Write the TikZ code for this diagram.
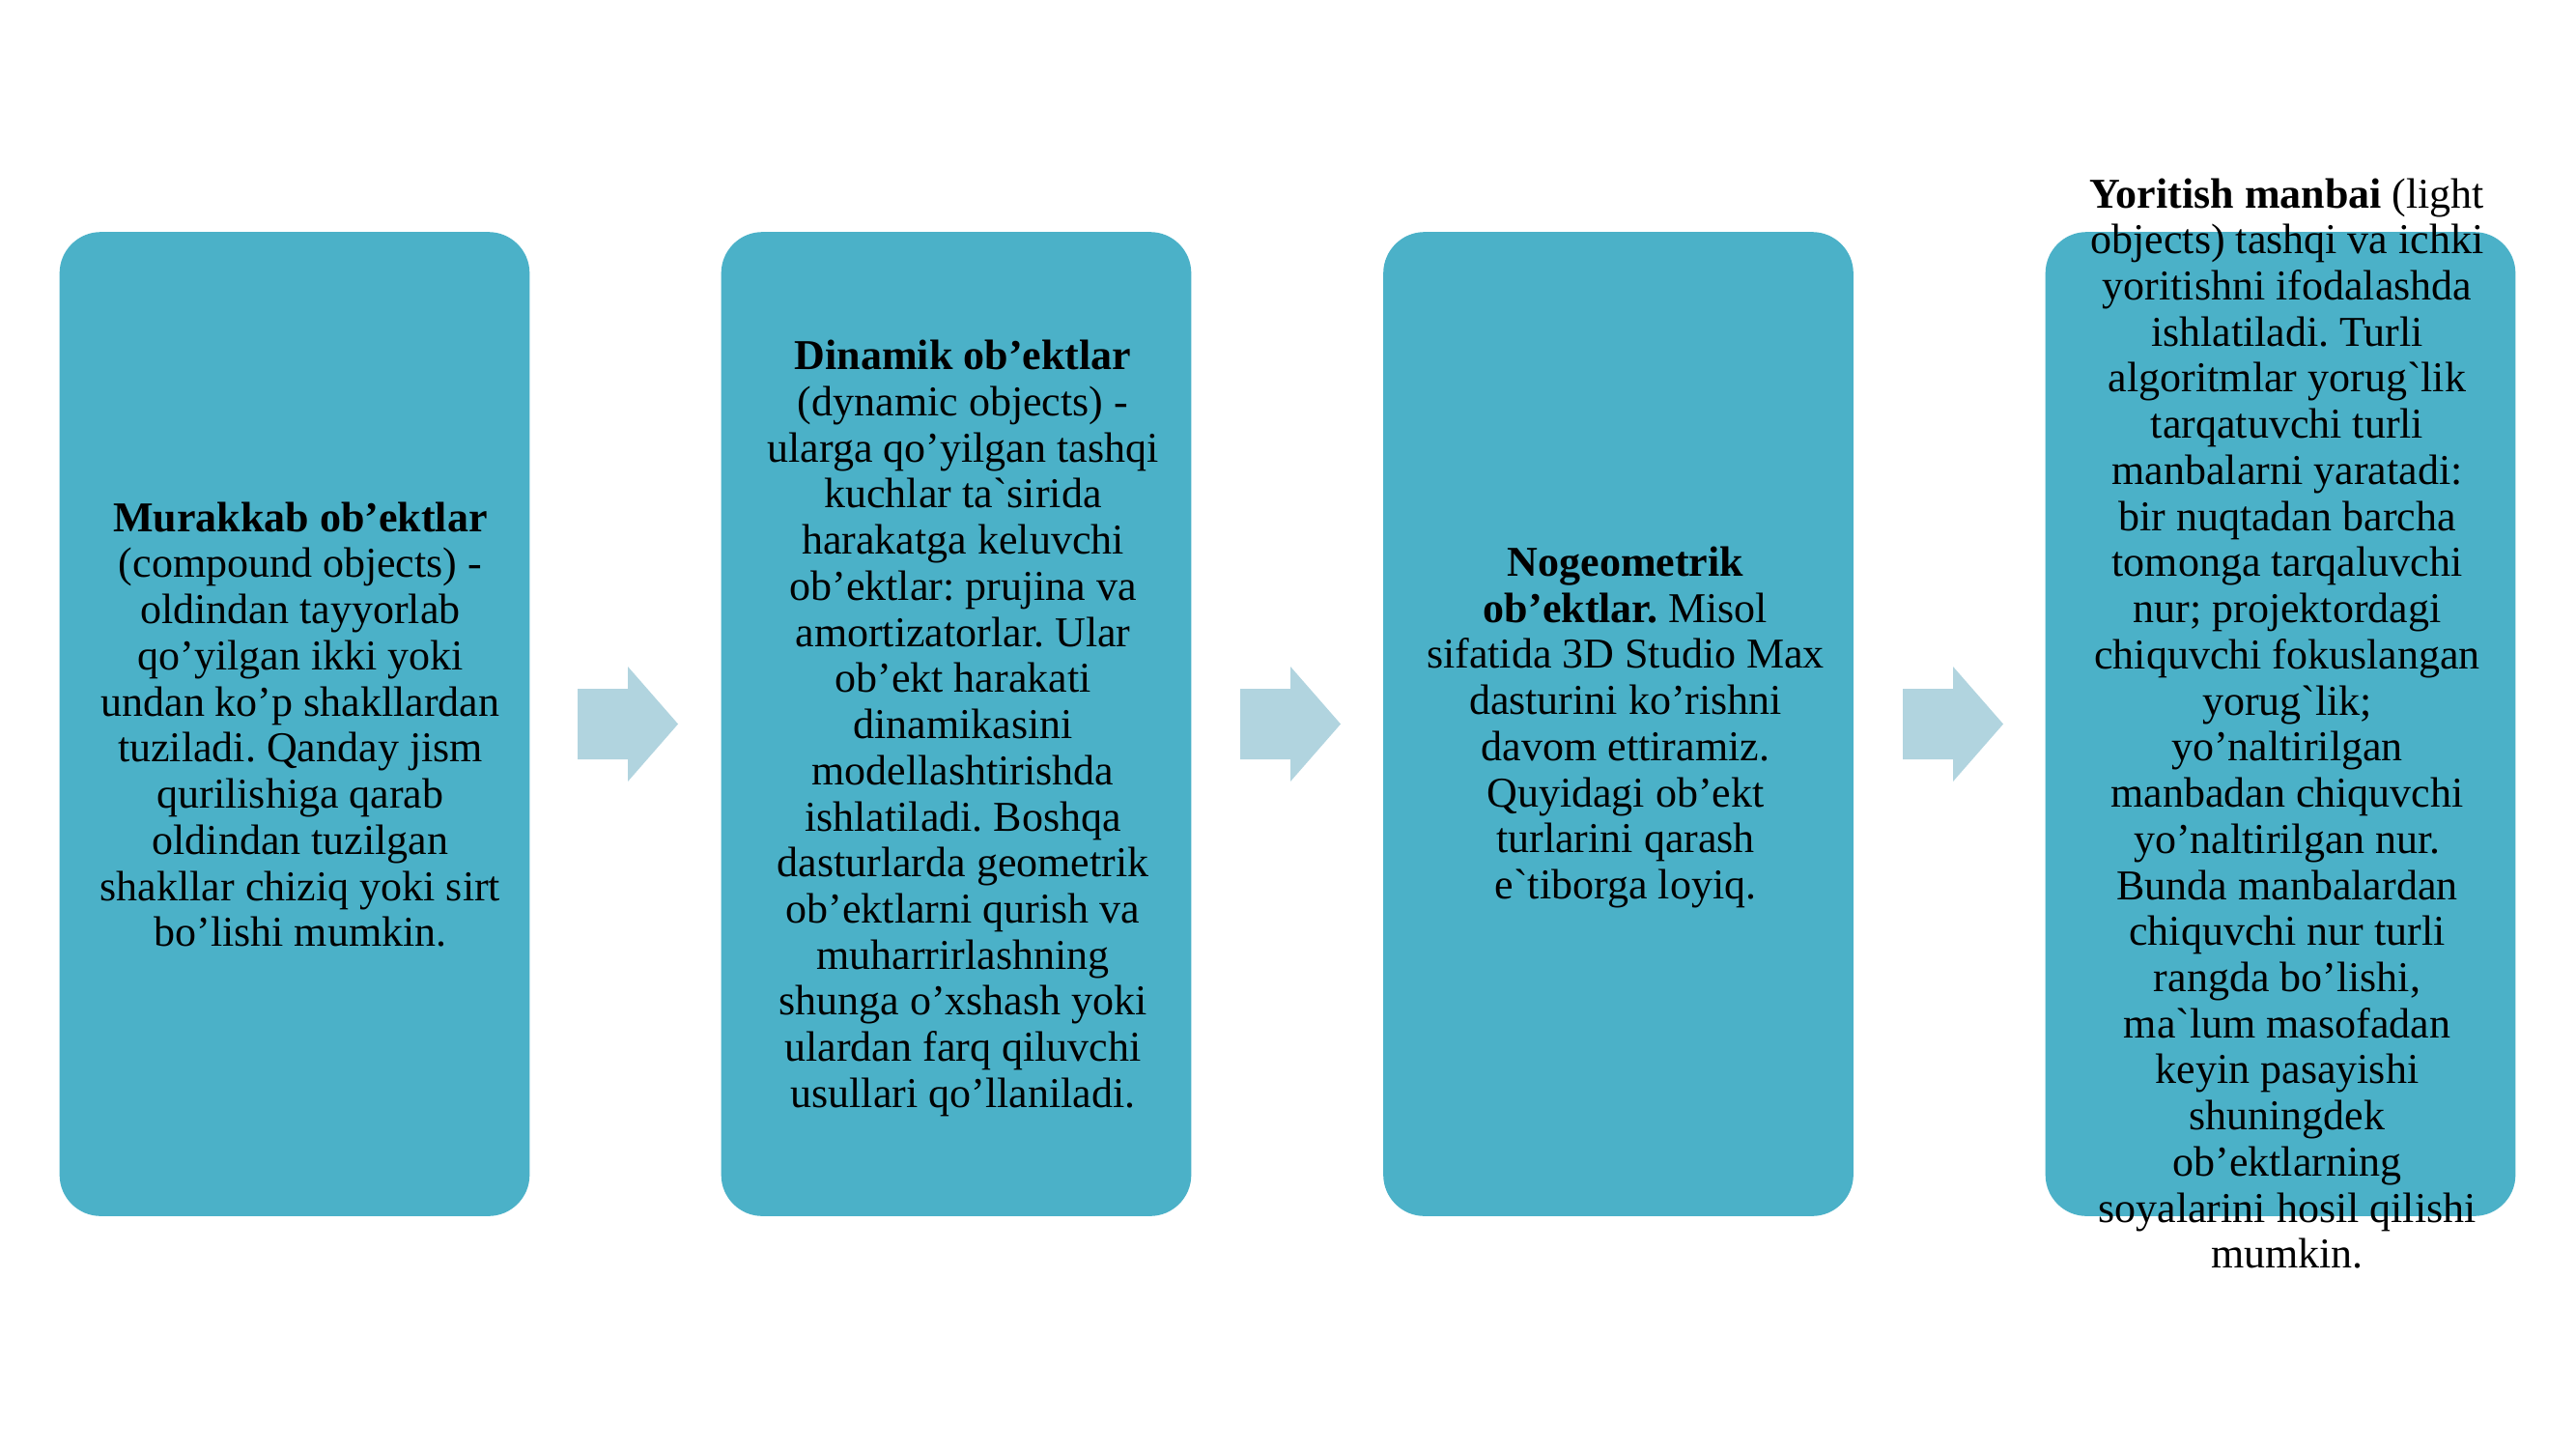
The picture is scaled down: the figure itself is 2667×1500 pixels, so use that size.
\documentclass[tikz,border=0pt]{standalone}
\usepackage{fontspec}
\setmainfont{Liberation Serif}[Ligatures=TeXOff]
\definecolor{boxc}{HTML}{4BB1C8}
\definecolor{arrc}{HTML}{B1D4DF}
\tikzset{
  card/.style={fill=boxc, draw=none, rounded corners=32pt, minimum width=365pt, minimum height=764pt, inner sep=0pt},
  cardtext/.style={align=center, inner sep=0pt, font=\fontsize{33}{35.8}\selectfont\frenchspacing, text=black},
  arrowfill/.style={fill=arrc, draw=none}
}
\begin{document}
\begin{tikzpicture}[x=0.75pt,y=-0.75pt]
\useasboundingbox (0,0) rectangle (2667,1500);
\fill[white] (0,0) rectangle (2667,1500);

\node[card] (b1) at (305,749.5) {};
\node[card] (b2) at (990,749.5) {};
\node[card] (b3) at (1675.5,749.5) {};
\node[card] (b4) at (2361,749.5) {};

\foreach \dx/\nm in {0/a1,686/a2,1372/a3}{
  \fill[arrowfill] (598+\dx,713) -- (650+\dx,713) -- (650+\dx,690) -- (702+\dx,749.5) -- (650+\dx,809) -- (650+\dx,786) -- (598+\dx,786) -- cycle;
}

\node[cardtext] (t1) at (311,750) {\textbf{Murakkab ob’ektlar}\\(compound objects) -\\oldindan tayyorlab\\qo’yilgan ikki yoki\\undan ko’p shakllardan\\tuziladi. Qanday jism\\qurilishiga qarab\\oldindan tuzilgan\\shakllar chiziq yoki sirt\\bo’lishi mumkin.};

\node[cardtext] (t2) at (997,754) {\textbf{Dinamik ob’ektlar}\\(dynamic objects) -\\ularga qo’yilgan tashqi\\kuchlar ta`sirida\\harakatga keluvchi\\ob’ektlar: prujina va\\amortizatorlar. Ular\\ob’ekt harakati\\dinamikasini\\modellashtirishda\\ishlatiladi. Boshqa\\dasturlarda geometrik\\ob’ektlarni qurish va\\muharrirlashning\\shunga o’xshash yoki\\ulardan farq qiluvchi\\usullari qo’llaniladi.};

\node[cardtext] (t3) at (1683,753) {\textbf{Nogeometrik}\\\textbf{ob’ektlar.} Misol\\sifatida 3D Studio Max\\dasturini ko’rishni\\davom ettiramiz.\\Quyidagi ob’ekt\\turlarini qarash\\e`tiborga loyiq.};

\node[cardtext] (t4) at (2368,749) {\textbf{Yoritish manbai} (light\\objects) tashqi va ichki\\yoritishni ifodalashda\\ishlatiladi. Turli\\algoritmlar yorug`lik\\tarqatuvchi turli\\manbalarni yaratadi:\\bir nuqtadan barcha\\tomonga tarqaluvchi\\nur; projektordagi\\chiquvchi fokuslangan\\yorug`lik;\\yo’naltirilgan\\manbadan chiquvchi\\yo’naltirilgan nur.\\Bunda manbalardan\\chiquvchi nur turli\\rangda bo’lishi,\\ma`lum masofadan\\keyin pasayishi\\shuningdek\\ob’ektlarning\\soyalarini hosil qilishi\\mumkin.};
\end{tikzpicture}
\end{document}
